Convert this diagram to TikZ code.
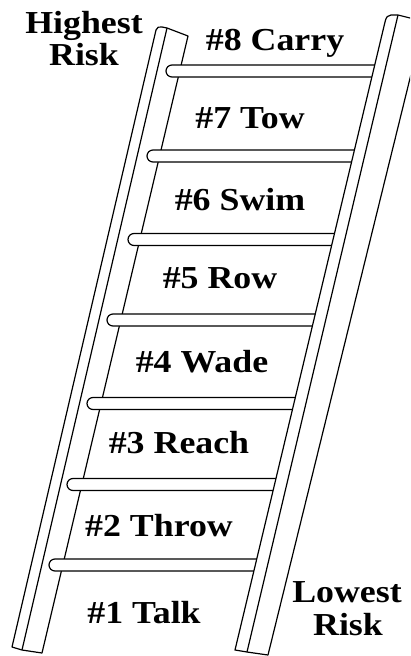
\documentclass[tikz,border=0pt]{standalone}
\usepackage{fontspec}
\setmainfont[FakeStretch=1.12]{Liberation Serif}
\usepackage{tikz}

\begin{document}
\begin{tikzpicture}[x=1pt, y=-1pt, line join=round,
    rail/.style={draw=black, fill=white, line width=1.2pt},
    rung/.style={draw=black, fill=white, line width=1.2pt, rounded corners=6pt},
    rungtext/.style={anchor=base, inner sep=0pt, font=\fontsize{32}{34}\selectfont\bfseries},
    risktext/.style={anchor=base, inner sep=0pt, font=\fontsize{32}{34}\selectfont\bfseries}
]
\useasboundingbox (0,0) rectangle (410,656);
\clip (0,0) rectangle (410,656);

% Left rail
\draw[rail] (156,30) .. controls (157,27) and (159,26.5) .. (162,27) -- (167,28) -- (188,36)
    -- (42,653) -- (22,650) -- (12,647) -- cycle;
\draw[rail] (167,28) -- (22,650);

% Rungs
\foreach \yc/\xl in {71/166, 156/147, 239.5/128, 320/107, 403.5/87, 484.5/67, 565/49}
    \draw[rung] (\xl+215,\yc-6) -- (\xl,\yc-6) -- (\xl,\yc+6) -- (\xl+215,\yc+6);

% Right rail
\draw[rail] (385,22) .. controls (386,17) and (388,15) .. (391,15) -- (398,15) -- (424,21.5)
    -- (268,655) -- (247,652) -- (235,650) -- cycle;
\draw[rail] (398,15) -- (247,652);

% Steps
\node[rungtext] (carry) at (275,50) {\#8 Carry};
\node[rungtext] (tow)   at (250,128) {\#7 Tow};
\node[rungtext] (swim)  at (240,210) {\#6 Swim};
\node[rungtext] (row)   at (220,288) {\#5 Row};
\node[rungtext] (wade)  at (202,372) {\#4 Wade};
\node[rungtext] (reach) at (179,453) {\#3 Reach};
\node[rungtext] (throw) at (159,536) {\#2 Throw};
\node[rungtext] (talk)  at (144,623) {\#1 Talk};

% Risk ends
\node[risktext] (high)  at (84,33) {Highest};
\node[risktext] (highr) at (84,65) {Risk};
\node[risktext] (low)   at (347,602) {Lowest};
\node[risktext] (lowr)  at (348,635) {Risk};

\end{tikzpicture}
\end{document}
